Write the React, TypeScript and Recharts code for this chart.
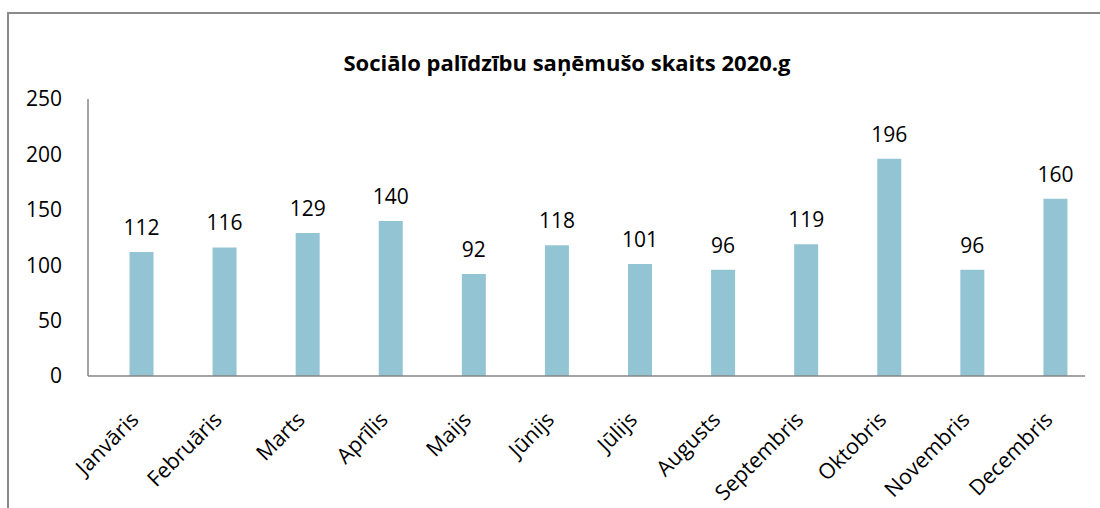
import React from 'react';
import { BarChart, Bar, XAxis, YAxis, LabelList } from 'recharts';

const months = [
  'Janvāris',
  'Februāris',
  'Marts',
  'Aprīlis',
  'Maijs',
  'Jūnijs',
  'Jūlijs',
  'Augusts',
  'Septembris',
  'Oktobris',
  'Novembris',
  'Decembris',
];
const recipients = [112, 116, 129, 140, 92, 118, 101, 96, 119, 196, 96, 160];
const yTicks = [0, 50, 100, 150, 200, 250];

const title = 'Sociālo palīdzību saņēmušo skaits 2020.g';

const FONT = '"Open Sans", sans-serif';
const BAR_COLOR = '#93c4d4';
const AXIS_COLOR = '#868686';

const chartData = months.map((month, i) => ({ month, value: recipients[i] }));

function MonthTick(props: any) {
  const { x, y, payload } = props;
  return (
    <g transform={`translate(${x},${y})`}>
      <text
        x={-7}
        y={31}
        textAnchor="end"
        dominantBaseline="central"
        transform="rotate(-45, -7, 31)"
        fill="#000"
        fontSize={21.5}
        fontFamily={FONT}
      >
        {payload.value}
      </text>
    </g>
  );
}

export default function App() {
  return (
    <div style={{ position: 'absolute', left: 0, top: 0, width: 1100, height: 508, background: '#fff', overflow: 'hidden' }}>
      <div
        style={{
          position: 'absolute',
          left: 7,
          top: 12,
          width: 1110,
          height: 520,
          borderLeft: '2px solid #8a8a8a',
          borderTop: '2px solid #8a8a8a',
        }}
      />
      <div
        style={{
          position: 'absolute',
          left: 0,
          width: 1134,
          top: 47,
          textAlign: 'center',
          fontFamily: FONT,
          fontWeight: 700,
          fontSize: 22,
          lineHeight: '30px',
          color: '#000',
        }}
      >
        {title}
      </div>
      <div style={{ position: 'absolute', left: 0, top: 0 }}>
        <BarChart
          width={1100}
          height={508}
          data={chartData}
          margin={{ top: 99, right: 15, left: 0, bottom: 0 }}
        >
          <XAxis
            dataKey="month"
            interval={0}
            height={132}
            padding={{ left: 11.5, right: -11.5 }}
            axisLine={{ stroke: AXIS_COLOR, strokeWidth: 1.5 }}
            tickLine={false}
            tick={<MonthTick />}
          />
          <YAxis
            domain={[0, 250]}
            ticks={yTicks}
            width={88}
            axisLine={{ stroke: AXIS_COLOR, strokeWidth: 1.5 }}
            tickLine={false}
            tickSize={0}
            tickMargin={26}
            tick={{ fill: '#000', fontSize: 21, fontFamily: FONT }}
          />
          <Bar dataKey="value" fill={BAR_COLOR} barSize={24} isAnimationActive={false}>
            <LabelList
              dataKey="value"
              position="top"
              offset={17}
              fill="#000"
              fontSize={21}
              fontFamily={FONT}
            />
          </Bar>
        </BarChart>
      </div>
    </div>
  );
}
